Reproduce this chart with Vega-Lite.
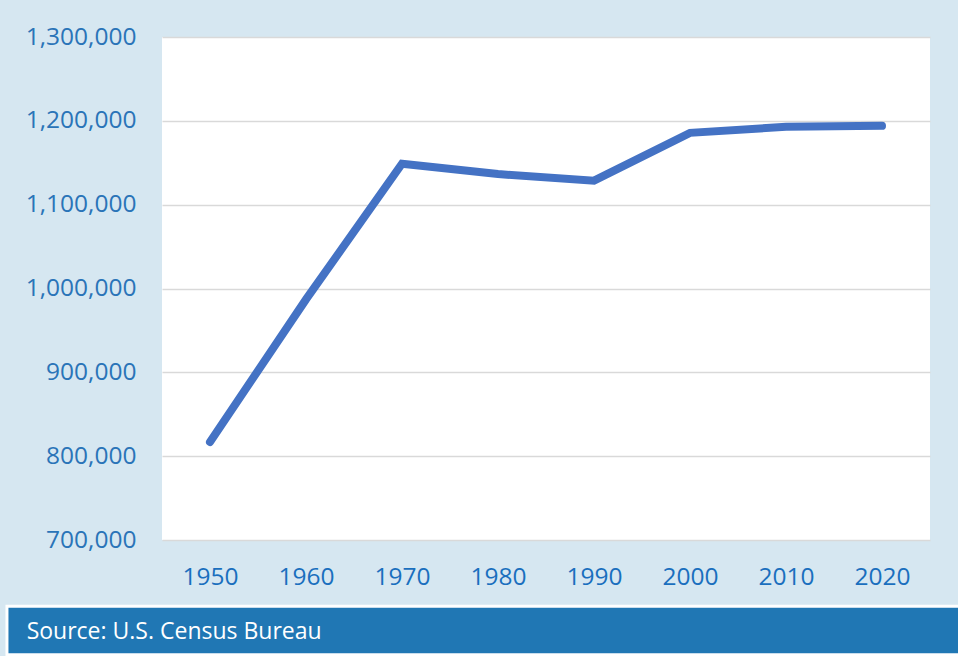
{
  "$schema": "https://vega.github.io/schema/vega-lite/v6.json",
  "width": 768,
  "height": 503,
  "autosize": {"type": "none"},
  "padding": {"left": 162, "top": 37, "right": 28, "bottom": 116},
  "background": "#d6e7f1",
  "config": {
    "view": {"fill": "white", "stroke": null},
    "font": "Open Sans"
  },
  "data": {
    "values": [
      {"year": 1950, "population": 817000},
      {"year": 1960, "population": 987000},
      {"year": 1970, "population": 1148800},
      {"year": 1980, "population": 1136500},
      {"year": 1990, "population": 1128600},
      {"year": 2000, "population": 1185700},
      {"year": 2010, "population": 1192900},
      {"year": 2020, "population": 1194000}
    ]
  },
  "layer": [
    {
      "data": {"values": [{"label": "Source: U.S. Census Bureau"}]},
      "mark": {"type": "rect", "fill": "#2077b4", "stroke": "white", "strokeWidth": 3, "clip": false},
      "encoding": {
        "x": {"datum": 1928.85, "type": "quantitative"},
        "x2": {"datum": 2032},
        "y": {"datum": 620833, "type": "quantitative"},
        "y2": {"datum": 563000}
      }
    },
    {
      "data": {"values": [{"label": "Source: U.S. Census Bureau"}]},
      "mark": {"type": "text", "align": "left", "baseline": "middle", "color": "white", "fontSize": 23, "font": "Open Sans", "clip": false},
      "encoding": {
        "x": {"datum": 1930.9, "type": "quantitative"},
        "y": {"datum": 590000, "type": "quantitative"},
        "text": {"field": "label"}
      }
    },
    {
      "mark": {"type": "line", "color": "#4472c4", "strokeWidth": 8, "strokeCap": "round"},
      "encoding": {
        "x": {
          "field": "year",
          "type": "quantitative",
          "scale": {"domain": [1945, 2025], "nice": false, "zero": false},
          "axis": {
            "title": null,
            "values": [1950, 1960, 1970, 1980, 1990, 2000, 2010, 2020],
            "format": "d",
            "grid": false,
            "ticks": false,
            "domain": false,
            "labelColor": "#1a6fbe",
            "labelFontSize": 24.5,
            "labelFont": "Open Sans",
            "labelPadding": 25
          }
        },
        "y": {
          "field": "population",
          "type": "quantitative",
          "scale": {"domain": [700000, 1300000], "nice": false, "zero": false},
          "axis": {
            "title": null,
            "values": [700000, 800000, 900000, 1000000, 1100000, 1200000, 1300000],
            "format": ",d",
            "grid": true,
            "gridColor": "#d9d9d9",
            "gridWidth": 1.5,
            "ticks": false,
            "domain": false,
            "labelColor": "#2a74b8",
            "labelFontSize": 24.5,
            "labelFont": "Open Sans",
            "labelPadding": 26
          }
        }
      }
    }
  ]
}
